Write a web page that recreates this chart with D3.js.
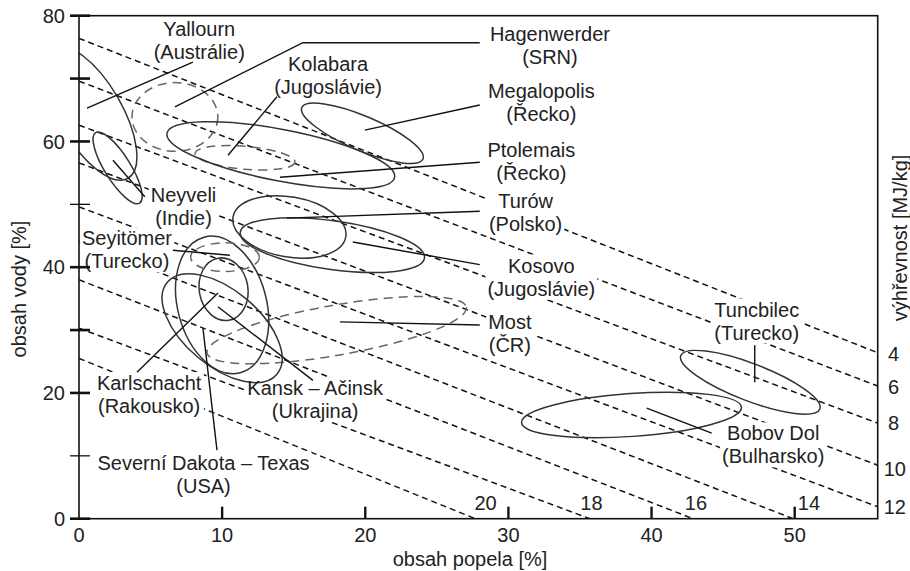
<!DOCTYPE html>
<html>
<head>
<meta charset="utf-8">
<script src="https://cdn.jsdelivr.net/npm/d3@7"></script>
<style>
  body { margin: 0; background: #fff }
  text { font-family: "Liberation Sans", Arial, sans-serif; font-size: 20px; fill: #222 }
</style>
</head>
<body>
<script>
// axis ticks
const xTicks = [10, 20, 30, 40, 50]
const xTickLabels = [0, 10, 20, 30, 40, 50]
const yTicks = [0, 10, 20, 30, 40, 50, 60, 70, 80]
const yTickLabels = [0, 20, 40, 60, 80]

// lines of equal výhřevnost [MJ/kg]: start and end as (ash %, water %)
const heatValues = [4, 6, 8, 10, 12, 14, 16, 18, 20]
const heatStart = [[0, 76.4], [0, 69.6], [0, 62.6], [0, 56.6], [0, 49.6], [0, 44.1], [0, 38.0], [0, 30.3], [0, 25.5]]
const heatEnd = [[55.8, 26.4], [55.8, 21.1], [55.8, 15.2], [55.8, 8.5], [55.8, 1.9], [49.9, 0], [42.9, 0], [35.7, 0], [27.7, 0]]
const heatLabelAt = [[56.9, 26.3], [56.9, 20.9], [56.9, 15.2], [57.0, 8.0], [57.0, 1.9], [51.0, 2.6], [43.1, 2.6], [35.8, 2.6], [28.4, 2.6]]

// coal deposits: centre, half spread along both axes (ash %), tilt (deg)
const siteNames = ['Yallourn', 'Neyveli', 'Hagenwerder', 'Kolabara', 'Megalopolis', 'Ptolemais', 'Turów', 'Kosovo',
  'Most', 'Seyitömer', 'Karlschacht', 'Kansk – Ačinsk', 'Severní Dakota – Texas', 'Tuncbilec', 'Bobov Dol']
const siteCountries = ['(Austrálie)', '(Indie)', '(SRN)', '(Jugoslávie)', '(Řecko)', '(Řecko)', '(Polsko)', '(Jugoslávie)',
  '(ČR)', '(Turecko)', '(Rakousko)', '(Ukrajina)', '(USA)', '(Turecko)', '(Bulharsko)']
const siteAsh = [0.8, 2.7, 6.7, 11.6, 19.8, 14.1, 14.7, 17.7, 18.0, 10.0, 10.0, 10.1, 10.2, 46.9, 38.6]
const siteWater = [64.5, 55.8, 63.9, 57.4, 61.3, 57.8, 46.4, 43.5, 30.0, 34.0, 30.3, 36.5, 41.6, 21.7, 16.5]
const siteMajor = [5.25, 2.9, 3.0, 3.5, 4.6, 8.1, 4.0, 6.5, 9.2, 3.1, 5.0, 1.7, 2.4, 5.2, 7.7]
const siteMinor = [2.2, 0.9, 2.4, 0.8, 1.2, 1.8, 2.1, 1.7, 1.75, 4.9, 2.65, 2.2, 1.0, 1.3, 1.5]
const siteTilt = [60, 58, 0, 5, 23, 11, 10, 8, -10, -15, 40, -10, 0, 21, -4]
const siteDashed = [false, false, true, true, false, false, false, false, true, false, false, false, true, false, false]

// label centres and leader lines (ash %, water %)
const labelAt = [[8.4, 77.9], [7.3, 51.5], [32.9, 77.2], [17.4, 72.3], [32.3, 68.0], [31.6, 58.6], [31.2, 50.6], [32.3, 40.3],
  [30.1, 31.3], [3.35, 44.6], [4.9, 21.6], [16.5, 20.8], [8.7, 8.9], [47.35, 33.3], [48.5, 13.6]]
const leaders = [
  [[7.96, 72.6], [0.56, 65.3]],
  [[4.6, 51.2], [2.37, 57.0]],
  [[28.0, 75.7], [15.64, 75.7], [6.7, 65.5]],
  [[13.83, 67.1], [10.41, 57.8]],
  [[28.0, 65.8], [19.97, 61.8]],
  [[28.0, 56.7], [14.04, 54.3]],
  [[28.0, 48.9], [14.53, 47.8]],
  [[28.0, 40.4], [19.13, 44.0]],
  [[28.0, 30.8], [18.23, 31.3]],
  [[6.56, 42.7], [10.54, 41.9]],
  [[4.05, 23.3], [9.71, 35.9]],
  [[16.34, 22.0], [9.71, 33.7]],
  [[9.64, 10.9], [8.66, 30.3]],
  [[47.21, 27.6], [47.21, 21.7]],
  [[44.2, 13.6], [39.66, 17.6]]
]

const width = 910, height = 571
const svg = d3.select('body').append('svg')
  .attr('width', width).attr('height', height)

const x = d3.scaleLinear().domain([0, 55.8]).range([79, 877.7])
const y = d3.scaleLinear().domain([0, 80]).range([518.7, 15.7])
const unit = x(1) - x(0)

svg.append('clipPath').attr('id', 'plot')
  .append('rect')
  .attr('x', x(0)).attr('y', y(80))
  .attr('width', x(55.8) - x(0)).attr('height', y(0) - y(80))

// heating value lines
const gHeat = svg.append('g').attr('clip-path', 'url(#plot)')
gHeat.selectAll('line')
  .data(heatValues)
  .join('line')
  .attr('x1', (d, i) => x(heatStart[i][0]))
  .attr('y1', (d, i) => y(heatStart[i][1]))
  .attr('x2', (d, i) => x(heatEnd[i][0]))
  .attr('y2', (d, i) => y(heatEnd[i][1]))
  .style('stroke', '#111')
  .style('stroke-width', 1.5)
  .style('stroke-dasharray', '6,4')

svg.append('g').selectAll('text')
  .data(heatValues)
  .join('text')
  .attr('x', (d, i) => x(heatLabelAt[i][0]))
  .attr('y', (d, i) => y(heatLabelAt[i][1]))
  .attr('dy', '0.36em')
  .attr('text-anchor', 'middle')
  .text(d => d)

// site labels (white boxes break the dashed lines)
const gLabelBg = svg.append('g')
const gSites = svg.append('g').attr('clip-path', 'url(#plot)')
const gLeaders = svg.append('g')
const gLabels = svg.append('g')

const labels = gLabels.selectAll('text')
  .data(siteNames)
  .join('text')
  .attr('text-anchor', 'middle')
  .attr('x', (d, i) => x(labelAt[i][0]))
  .attr('y', (d, i) => y(labelAt[i][1]))
  .attr('dy', '0.36em')
labels.append('tspan').text(d => d)
labels.append('tspan')
  .attr('x', (d, i) => x(labelAt[i][0]))
  .attr('dy', 23)
  .text((d, i) => siteCountries[i])

labels.each(function() {
  const b = this.getBBox()
  gLabelBg.append('rect')
    .attr('x', b.x - 2).attr('y', b.y)
    .attr('width', b.width + 4).attr('height', b.height)
    .style('fill', '#fff')
})

gSites.selectAll('ellipse')
  .data(siteNames)
  .join('ellipse')
  .attr('cx', (d, i) => x(siteAsh[i]))
  .attr('cy', (d, i) => y(siteWater[i]))
  .attr('rx', (d, i) => siteMajor[i] * unit)
  .attr('ry', (d, i) => siteMinor[i] * unit)
  .attr('transform', (d, i) => `rotate(${siteTilt[i]} ${x(siteAsh[i])} ${y(siteWater[i])})`)
  .style('fill', 'none')
  .style('stroke', (d, i) => siteDashed[i] ? '#666' : '#333')
  .style('stroke-width', 1.5)
  .style('stroke-dasharray', (d, i) => siteDashed[i] ? '9,6' : null)

const leaderLine = d3.line().x(d => x(d[0])).y(d => y(d[1]))
gLeaders.selectAll('path')
  .data(leaders)
  .join('path')
  .attr('d', leaderLine)
  .style('fill', 'none')
  .style('stroke', '#111')
  .style('stroke-width', 1.4)

// frame and axes
const gAxes = svg.append('g')
gAxes.append('rect')
  .attr('x', x(0)).attr('y', y(80))
  .attr('width', x(55.8) - x(0)).attr('height', y(0) - y(80))
  .style('fill', 'none').style('stroke', '#111').style('stroke-width', 1.6)

gAxes.selectAll('.ytick')
  .data(yTicks)
  .join('line')
  .classed('ytick', true)
  .attr('x1', x(0) - 9).attr('x2', x(0) + 11)
  .attr('y1', d => y(d)).attr('y2', d => y(d))
  .style('stroke', '#111')
  .style('stroke-width', d => d % 20 === 0 || d === 30 || d === 70 ? 2.6 : 1.3)

gAxes.selectAll('.xtick')
  .data(xTicks)
  .join('line')
  .classed('xtick', true)
  .attr('x1', d => x(d)).attr('x2', d => x(d))
  .attr('y1', y(0)).attr('y2', y(0) - 12)
  .style('stroke', '#111').style('stroke-width', 2.4)

gAxes.selectAll('.ylab')
  .data(yTickLabels)
  .join('text')
  .classed('ylab', true)
  .attr('x', x(0) - 14).attr('y', d => y(d))
  .attr('dy', '0.36em')
  .attr('text-anchor', 'end')
  .text(d => d)

gAxes.selectAll('.xlab')
  .data(xTickLabels)
  .join('text')
  .classed('xlab', true)
  .attr('x', d => x(d)).attr('y', y(0) + 16)
  .attr('dy', '0.36em')
  .attr('text-anchor', 'middle')
  .text(d => d)

gAxes.append('text')
  .attr('x', 470).attr('y', 559)
  .attr('dy', '0.36em')
  .attr('text-anchor', 'middle')
  .text('obsah popela [%]')

gAxes.append('text')
  .attr('transform', 'translate(19 289) rotate(-90)')
  .attr('dy', '0.36em')
  .attr('text-anchor', 'middle')
  .text('obsah vody [%]')

gAxes.append('text')
  .attr('transform', 'translate(900 238) rotate(-90)')
  .attr('dy', '0.36em')
  .attr('text-anchor', 'middle')
  .text('výhřevnost [MJ/kg]')
</script>
</body>
</html>
